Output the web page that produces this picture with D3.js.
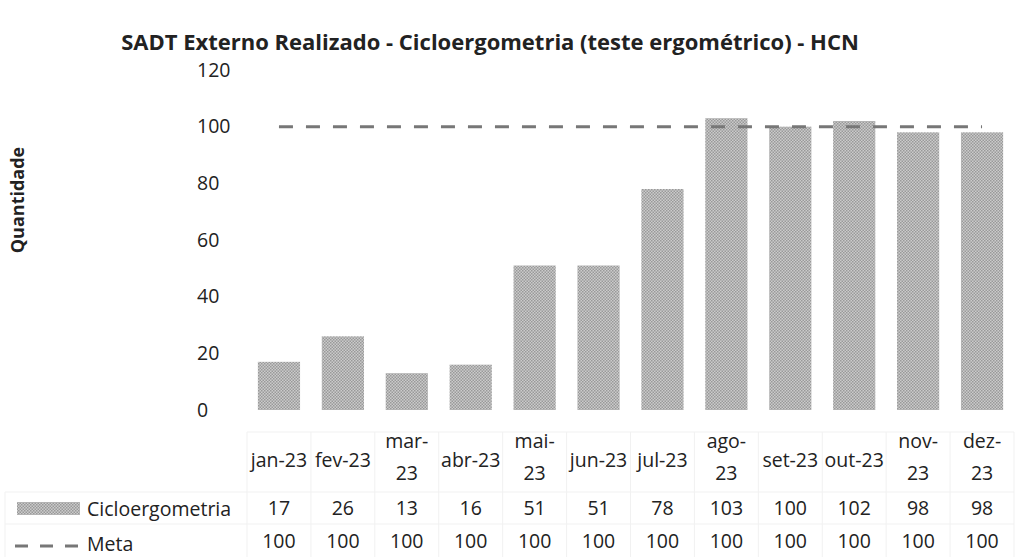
<!DOCTYPE html>
<meta charset="utf-8">
<title>SADT Externo Realizado - Cicloergometria</title>
<style>
body { margin: 0; background: #fff; }
svg text { font-family: "Open Sans", "DejaVu Sans", sans-serif; fill: #222; }
</style>
<body>
<script src="https://cdn.jsdelivr.net/npm/d3@7"></script>
<script>
'use strict';

const months = ["jan-23","fev-23","mar-23","abr-23","mai-23","jun-23","jul-23","ago-23","set-23","out-23","nov-23","dez-23"];
const realizado = [17, 26, 13, 16, 51, 51, 78, 103, 100, 102, 98, 98];
const meta = [100, 100, 100, 100, 100, 100, 100, 100, 100, 100, 100, 100];
const yTicks = [0, 20, 40, 60, 80, 100, 120];
// labels that wrap on two lines in the table header
const wrapped = ["mar-23", "mai-23", "ago-23", "nov-23", "dez-23"];

const width = 1017, height = 557;

const svg = d3.select("body").append("svg")
    .attr("width", width)
    .attr("height", height);

// hatched grey fill like the scan
const defs = svg.append("defs");
const pat = defs.append("pattern")
    .attr("id", "hatch")
    .attr("width", 3).attr("height", 3)
    .attr("patternUnits", "userSpaceOnUse");
pat.append("rect").attr("width", 3).attr("height", 3).attr("fill", "#cbcbcb");
pat.append("rect").attr("width", 1.5).attr("height", 1.5).attr("fill", "#999");
pat.append("rect").attr("x", 1.5).attr("y", 1.5).attr("width", 1.5).attr("height", 1.5).attr("fill", "#999");

const x = d3.scaleBand().domain(months).range([247, 1014]).paddingInner(0.34).paddingOuter(0.17);
const y = d3.scaleLinear().domain([0, 120]).range([410, 70]);

// title
svg.append("text")
    .attr("x", 490).attr("y", 50)
    .attr("text-anchor", "middle")
    .style("font-size", "22px")
    .style("font-weight", "bold")
    .text("SADT Externo Realizado - Cicloergometria (teste ergométrico) - HCN");

// y axis title
svg.append("text")
    .attr("transform", "translate(24,200) rotate(-90)")
    .attr("text-anchor", "middle")
    .style("font-size", "18px")
    .style("font-weight", "bold")
    .text("Quantidade");

// y axis (labels only, left aligned like the scan)
const yAxis = svg.append("g")
    .attr("transform", "translate(236,0)")
    .call(d3.axisLeft(y).tickValues(yTicks).tickSize(0).tickPadding(0));
yAxis.select(".domain").remove();
yAxis.selectAll("text")
    .attr("x", -39)
    .attr("text-anchor", "start")
    .style("font-family", "'Open Sans', sans-serif")
    .style("font-size", "19.5px")
    .attr("fill", "#222");

// bars
svg.append("g").selectAll("rect")
    .data(realizado)
    .join("rect")
    .attr("x", (d, i) => x(months[i]))
    .attr("y", d => y(d))
    .attr("width", x.bandwidth())
    .attr("height", d => y(0) - y(d))
    .attr("fill", "url(#hatch)");

// meta line
const line = d3.line()
    .x((d, i) => x(months[i]) + x.bandwidth() / 2)
    .y(d => y(d));
svg.append("path")
    .datum(meta)
    .attr("d", line)
    .attr("fill", "none")
    .attr("stroke", "#777")
    .attr("stroke-width", 3)
    .attr("stroke-dasharray", "14,13");

// data table
const tableTop = 432, rowA = 492, rowB = 524;
const grid = svg.append("g").attr("stroke", "#f1f1f1").attr("stroke-width", 1);
const x0 = x.range()[0], x1 = x.range()[1];
grid.append("line").attr("x1", x0).attr("x2", x1).attr("y1", tableTop).attr("y2", tableTop);
grid.append("line").attr("x1", 5).attr("x2", x1).attr("y1", rowA).attr("y2", rowA);
grid.append("line").attr("x1", 5).attr("x2", x1).attr("y1", rowB).attr("y2", rowB);
grid.selectAll("line.v")
    .data(d3.range(months.length + 1))
    .join("line")
    .attr("class", "v")
    .attr("x1", i => x0 + i * x.step()).attr("x2", i => x0 + i * x.step())
    .attr("y1", tableTop).attr("y2", height);
grid.append("line").attr("x1", 5).attr("x2", 5).attr("y1", rowA).attr("y2", height);

const cx = m => x(m) + x.bandwidth() / 2;

const head = svg.append("g").style("font-size", "19.5px").attr("text-anchor", "middle");
months.forEach(m => {
  if (wrapped.includes(m)) {
    const parts = m.split("-");
    head.append("text").attr("x", cx(m)).attr("y", 448).text(parts[0] + "-");
    head.append("text").attr("x", cx(m)).attr("y", 480).text(parts[1]);
  } else {
    head.append("text").attr("x", cx(m)).attr("y", 467).text(m);
  }
});

svg.append("g").style("font-size", "19.5px").attr("text-anchor", "middle")
  .selectAll("text").data(realizado).join("text")
    .attr("x", (d, i) => cx(months[i]))
    .attr("y", 515)
    .text(d => d);

svg.append("g").style("font-size", "19.5px").attr("text-anchor", "middle")
  .selectAll("text").data(meta).join("text")
    .attr("x", (d, i) => cx(months[i]))
    .attr("y", 548)
    .text(d => d);

// legend keys in the table
svg.append("rect")
    .attr("x", 17).attr("y", 502).attr("width", 63).attr("height", 13)
    .attr("fill", "url(#hatch)");
svg.append("text").attr("x", 87).attr("y", 516).style("font-size", "19.5px").text("Cicloergometria");
svg.append("line")
    .attr("x1", 15).attr("x2", 80).attr("y1", 546).attr("y2", 546)
    .attr("stroke", "#777").attr("stroke-width", 3)
    .attr("stroke-dasharray", "13,12");
svg.append("text").attr("x", 87).attr("y", 551).style("font-size", "19.5px").text("Meta");
</script>
</body>
